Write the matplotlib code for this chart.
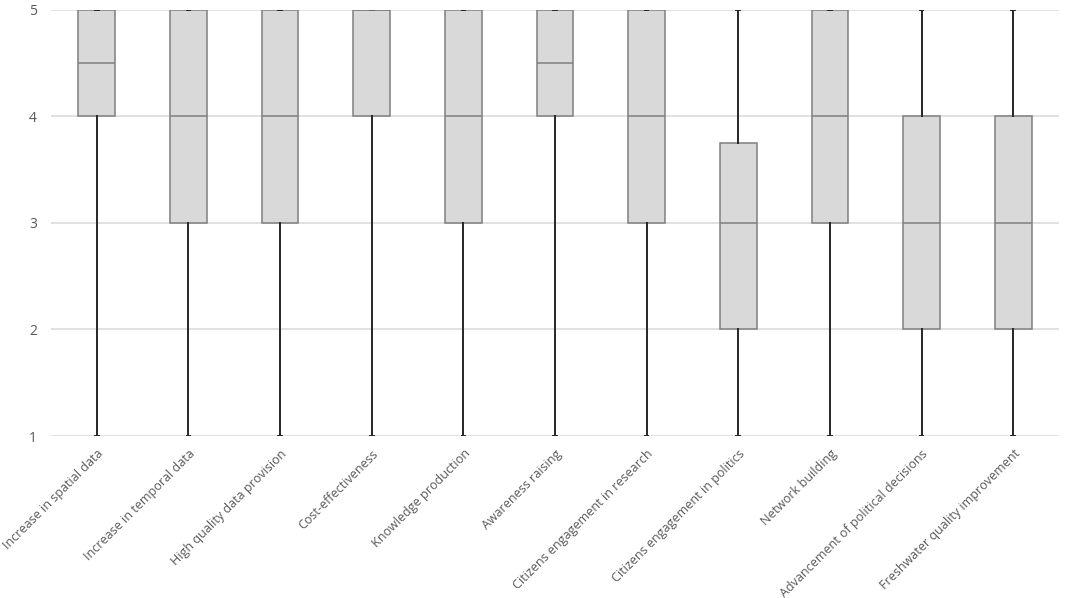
import matplotlib
matplotlib.use("Agg")
import matplotlib.pyplot as plt

categories = ["Increase in spatial data", "Increase in temporal data", "High quality data provision",
              "Cost-effectiveness", "Knowledge production", "Awareness raising",
              "Citizens engagement in research", "Citizens engagement in politics",
              "Network building", "Advancement of political decisions", "Freshwater quality improvement"]
whisker_low = [1, 1, 1, 1, 1, 1, 1, 1, 1, 1, 1]
q1 = [4, 3, 3, 4, 3, 4, 3, 2, 3, 2, 2]
median = [4.5, 4, 4, 5, 4, 4.5, 4, 3, 4, 3, 3]
q3 = [5, 5, 5, 5, 5, 5, 5, 3.75, 5, 4, 4]
whisker_high = [5, 5, 5, 5, 5, 5, 5, 5, 5, 5, 5]
yticks = [1, 2, 3, 4, 5]

plt.rcParams['font.family'] = ['Open Sans', 'DejaVu Sans']

fig = plt.figure(figsize=(10.65, 5.98), dpi=100)
ax = fig.add_axes([51/1065, 1 - 436/598, (1059-51)/1065, (436-9.7)/598])

stats = []
for i, c in enumerate(categories):
    stats.append(dict(label=c, whislo=whisker_low[i], q1=q1[i], med=median[i],
                      q3=q3[i], whishi=whisker_high[i], fliers=[]))

ax.bxp(stats, positions=range(1, len(categories) + 1), widths=0.4, patch_artist=True,
       showfliers=False,
       boxprops=dict(facecolor="#d9d9d9", edgecolor="#7f7f7f", linewidth=1.1),
       medianprops=dict(color="#7f7f7f", linewidth=1.1),
       whiskerprops=dict(color="#262626", linewidth=1.4),
       capprops=dict(color="#262626", linewidth=1.4),
       capwidths=0.04, zorder=3)

ax.set_xlim(0.5, len(categories) + 0.5)
ax.set_ylim(1, 5)
ax.set_yticks(yticks)
ax.set_yticklabels([str(v) for v in yticks], color="#595959", fontsize=10)
ax.yaxis.grid(True, color="#d9d9d9", linewidth=1.1, zorder=0)
ax.set_axisbelow(True)
ax.tick_params(axis='both', length=0)
ax.tick_params(axis='y', pad=10)
for s in ax.spines.values():
    s.set_visible(False)
ax.set_xticks(range(1, len(categories) + 1))
ax.set_xticklabels(categories, rotation=45, ha='right', rotation_mode='anchor',
                   color="#595959", fontsize=9)
ax.tick_params(axis='x', pad=8)

fig.savefig("out.png", dpi=100)
